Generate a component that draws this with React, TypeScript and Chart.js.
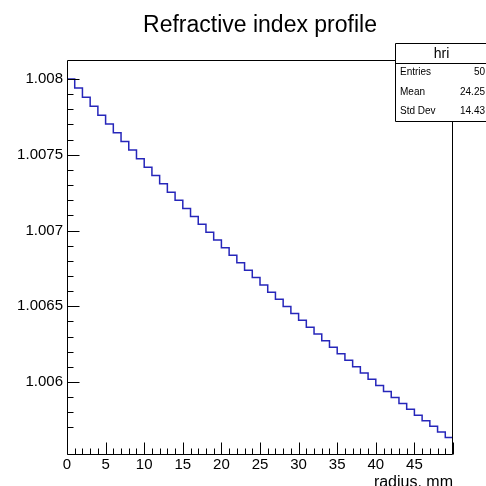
import React, { useEffect, useRef } from 'react';
import { Chart, registerables } from 'chart.js';

Chart.register(...registerables);

// ---- data ----
const binLowEdges = [
  0, 1, 2, 3, 4, 5, 6, 7, 8, 9,
  10, 11, 12, 13, 14, 15, 16, 17, 18, 19,
  20, 21, 22, 23, 24, 25, 26, 27, 28, 29,
  30, 31, 32, 33, 34, 35, 36, 37, 38, 39,
  40, 41, 42, 43, 44, 45, 46, 47, 48, 49,
];
const refractiveIndex = [
  1.008000, 1.007940, 1.007880, 1.007820, 1.007761, 1.007703, 1.007645, 1.007587, 1.007531, 1.007474,
  1.007418, 1.007363, 1.007308, 1.007253, 1.007200, 1.007146, 1.007093, 1.007041, 1.006989, 1.006938,
  1.006887, 1.006837, 1.006787, 1.006738, 1.006689, 1.006641, 1.006593, 1.006546, 1.006499, 1.006452,
  1.006407, 1.006362, 1.006317, 1.006272, 1.006229, 1.006186, 1.006143, 1.006101, 1.006059, 1.006018,
  1.005977, 1.005937, 1.005897, 1.005858, 1.005820, 1.005781, 1.005744, 1.005707, 1.005670, 1.005634,
];
const xMin = 0;
const xMax = 50;
const yMin = 1.005518;
const yMax = 1.008125;
const xLabelEvery = 5;
const yLabelEvery = 0.0005;
const yMinorStep = 0.0001;
const xMinorStep = 1;

const titleText = 'Refractive index profile';
const xAxisTitle = 'radius, mm';
const statsName = 'hri';
const statsLabels = ['Entries', 'Mean', 'Std Dev'];
const statsValues = ['50', '24.25', '14.43'];

const FONT = '"Liberation Sans", Arial, Helvetica, sans-serif';
const LINE_COLOR = 'rgb(38,38,186)';

function isMultiple(v: number, step: number) {
  const r = v / step;
  return Math.abs(r - Math.round(r)) < 1e-6;
}

const rootFramePlugin = {
  id: 'rootFrame',
  afterDraw(chart: any) {
    const { ctx, chartArea } = chart;
    const xs = chart.scales.x;
    const ys = chart.scales.y;
    const L = Math.round(chartArea.left) + 0.5;
    const R = Math.round(chartArea.right) - 0.5;
    const T = Math.round(chartArea.top) + 0.5;
    const B = Math.round(chartArea.bottom) - 0.5;
    ctx.save();
    ctx.strokeStyle = '#000';
    ctx.lineWidth = 1;
    ctx.beginPath();
    ctx.rect(L, T, R - L, B - T);
    ctx.stroke();

    // y ticks (inside)
    ctx.beginPath();
    ys.ticks.forEach((t: any) => {
      const v = t.value;
      if (!isMultiple(v, yMinorStep)) return;
      const y = Math.round(ys.getPixelForValue(v)) + 0.5;
      const len = isMultiple(v, yLabelEvery) ? 12 : 6;
      ctx.moveTo(L, y);
      ctx.lineTo(L + len, y);
    });
    // x ticks (inside)
    xs.ticks.forEach((t: any) => {
      const v = t.value;
      if (!isMultiple(v, xMinorStep)) return;
      const x = Math.round(xs.getPixelForValue(v)) + 0.5;
      const len = isMultiple(v, xLabelEvery) ? 12 : 6;
      ctx.moveTo(x, B);
      ctx.lineTo(x, B - len);
    });
    ctx.stroke();

    // stats box
    const bx = 395.5, by = 43.5, bw = 100, bh = 78, sep = 63.5;
    ctx.fillStyle = '#fff';
    ctx.fillRect(bx, by, bw, bh);
    ctx.beginPath();
    ctx.rect(bx, by, bw, bh);
    ctx.moveTo(bx, sep);
    ctx.lineTo(bx + bw, sep);
    ctx.stroke();
    ctx.fillStyle = '#000';
    ctx.textBaseline = 'middle';
    ctx.textAlign = 'center';
    ctx.font = `14px ${FONT}`;
    ctx.fillText(statsName, 441.5, 54);
    ctx.font = `10px ${FONT}`;
    const rowsY = [72.7, 92.5, 111];
    statsLabels.forEach((lab, i) => {
      ctx.textAlign = 'left';
      ctx.fillText(lab, 400, rowsY[i]);
      ctx.textAlign = 'right';
      ctx.fillText(statsValues[i], 485, rowsY[i]);
    });
    ctx.restore();
  },
};

export default function App() {
  const canvasRef = useRef<HTMLCanvasElement | null>(null);

  useEffect(() => {
    const canvas = canvasRef.current;
    if (!canvas) return;
    const points = binLowEdges.map((x, i) => ({ x, y: refractiveIndex[i] }));
    points.push({ x: xMax, y: refractiveIndex[refractiveIndex.length - 1] });

    const chart = new Chart(canvas, {
      type: 'line',
      data: {
        datasets: [
          {
            label: statsName,
            data: points,
            stepped: 'before',
            borderColor: LINE_COLOR,
            borderWidth: 1.5,
            pointRadius: 0,
            fill: false,
            tension: 0,
          },
        ],
      },
      options: {
        responsive: false,
        animation: false,
        devicePixelRatio: 1,
        events: [],
        layout: { padding: { top: 0, right: 33, bottom: 0, left: 0 } },
        plugins: {
          legend: { display: false },
          tooltip: { enabled: false },
          title: {
            display: true,
            text: titleText,
            fullSize: false,
            color: '#000',
            font: { family: FONT, size: 23, weight: 'normal', lineHeight: 1.2 },
            padding: { top: 11.5, bottom: 21 },
          },
        },
        scales: {
          x: {
            type: 'linear',
            min: xMin,
            max: xMax,
            grid: { display: false, drawTicks: false },
            border: { display: false },
            ticks: {
              stepSize: xMinorStep,
              autoSkip: false,
              maxRotation: 0,
              minRotation: 0,
              padding: 1,
              color: '#000',
              font: { family: FONT, size: 15 },
              callback: (v: any) => {
                const n = Number(v);
                return isMultiple(n, xLabelEvery) && n < xMax ? String(Math.round(n)) : '';
              },
            },
            title: {
              display: true,
              text: xAxisTitle,
              align: 'end',
              color: '#000',
              font: { family: FONT, size: 16, lineHeight: 1.2 },
              padding: { top: 0, bottom: -6 },
            },
            afterFit: (s: any) => {
              s.height = 31;
            },
          },
          y: {
            type: 'linear',
            min: yMin,
            max: yMax,
            grid: { display: false, drawTicks: false },
            border: { display: false },
            ticks: {
              stepSize: yMinorStep,
              autoSkip: false,
              padding: 4,
              color: '#000',
              font: { family: FONT, size: 15 },
              callback: (v: any) => {
                const n = Number(v);
                return isMultiple(n, yLabelEvery) ? String(parseFloat(n.toFixed(4))) : '';
              },
            },
            afterFit: (s: any) => {
              s.width = 67;
            },
          },
        },
      },
      plugins: [rootFramePlugin],
    });
    return () => chart.destroy();
  }, []);

  return (
    <div style={{ position: 'fixed', left: 0, top: 0, width: 486, height: 486, background: '#fff' }}>
      <canvas ref={canvasRef} width={486} height={486} style={{ display: 'block' }} />
    </div>
  );
}
